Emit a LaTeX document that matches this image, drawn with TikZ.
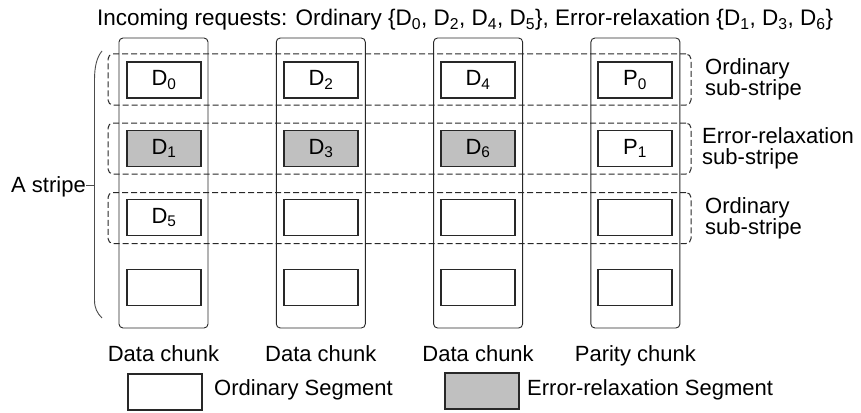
\documentclass[tikz,border=0pt]{standalone}
\usepackage{fontspec}
\setmainfont{Liberation Sans}
\definecolor{segGray}{RGB}{192,192,192}
\definecolor{lineDark}{RGB}{40,40,40}
\begin{document}
\begin{tikzpicture}[x=1pt,y=-1pt,
  font=\fontsize{22}{21}\selectfont,
  chunk/.style={draw=lineDark, line width=0.9pt, rounded corners=4pt,
    minimum width=89pt, minimum height=290pt, inner sep=0pt},
  seg/.style={draw=lineDark, line width=1.1pt, fill=white,
    minimum width=74pt, minimum height=36pt, inner sep=0pt},
  errseg/.style={seg, fill=segGray},
  substripe/.style={draw=lineDark, line width=1pt, dash pattern=on 6pt off 3pt,
    rounded corners=5pt, minimum width=583pt, minimum height=51pt, inner sep=0pt},
  txt/.style={inner sep=0pt, anchor=base},
  sidetxt/.style={inner sep=0pt, anchor=west, align=left}]
\useasboundingbox (0,0) rectangle (861,412);

% title
\node[txt, anchor=base west, font=\fontsize{22.5}{21}\selectfont] (title) at (97,26)
  {Incoming requests: Ordinary \{D\textsubscript{0}, D\textsubscript{2}, D\textsubscript{4}, D\textsubscript{5}\}, Error-relaxation \{D\textsubscript{1}, D\textsubscript{3}, D\textsubscript{6}\}};

% chunks (columns)
\node[chunk] (c1) at (163.5,183) {};
\node[chunk] (c2) at (320.8,183) {};
\node[chunk] (c3) at (478.1,183) {};
\node[chunk] (c4) at (635.4,183) {};

% sub-stripes
\node[substripe] (s1) at (399.5,79.5) {};
\node[substripe] (s2) at (399.5,148.5) {};
\node[substripe] (s3) at (399.5,218) {};

% segments, row by row
\node[seg] (r1c1) at (164,80) {D\textsubscript{0}};
\node[seg] (r1c2) at (321,80) {D\textsubscript{2}};
\node[seg] (r1c3) at (478,80) {D\textsubscript{4}};
\node[seg] (r1c4) at (635,80) {P\textsubscript{0}};

\node[errseg] (r2c1) at (164,148.5) {D\textsubscript{1}};
\node[errseg] (r2c2) at (321,148.5) {D\textsubscript{3}};
\node[errseg] (r2c3) at (478,148.5) {D\textsubscript{6}};
\node[seg] (r2c4) at (635,148.5) {P\textsubscript{1}};

\node[seg] (r3c1) at (164,217.5) {D\textsubscript{5}};
\node[seg] (r3c2) at (321,217.5) {};
\node[seg] (r3c3) at (478,217.5) {};
\node[seg] (r3c4) at (635,217.5) {};

\node[seg] (r4c1) at (164,287.5) {};
\node[seg] (r4c2) at (321,287.5) {};
\node[seg] (r4c3) at (478,287.5) {};
\node[seg] (r4c4) at (635,287.5) {};

% sub-stripe labels
\node[sidetxt] (l1) at (705,79.5) {Ordinary\\sub-stripe};
\node[sidetxt] (l2) at (702,148.5) {Error-relaxation\\sub-stripe};
\node[sidetxt] (l3) at (705,218) {Ordinary\\sub-stripe};

% stripe brace
\draw[line width=0.9pt, draw=black!70]
  (102,51) .. controls (97,57) and (94.5,66) .. (94.5,80)
  -- (94.5,300) .. controls (94.5,308) and (97,313) .. (102,318);
\node[txt, anchor=base east] (stripe) at (86,192) {A stripe};
\coordinate (tip) at (94.5,185);
\draw[line width=0.9pt, draw=black!70] (tip) -- (tip -| stripe.east);

% chunk captions
\node[txt] (cap1) at (163.5,361) {Data chunk};
\node[txt] (cap2) at (320.8,361) {Data chunk};
\node[txt] (cap3) at (478.1,361) {Data chunk};
\node[txt] (cap4) at (635.4,361) {Parity chunk};

% legend
\node[seg] (legO) at (165,392) {};
\node[txt, anchor=base west] (legOt) at (214,395) {Ordinary Segment};
\node[errseg] (legE) at (482,391) {};
\node[txt, anchor=base west] (legEt) at (527,395) {Error-relaxation Segment};
\end{tikzpicture}
\end{document}
